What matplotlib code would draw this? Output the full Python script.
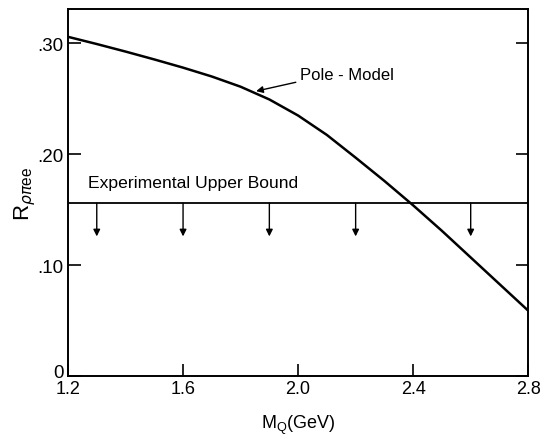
import matplotlib
matplotlib.use('Agg')
import matplotlib.pyplot as plt
import matplotlib.transforms as mtransforms

# ---- Data ----
mass_gev = [1.2, 1.3, 1.4, 1.5, 1.6, 1.7, 1.8, 1.9, 2.0, 2.1, 2.2, 2.3, 2.4,
            2.5, 2.6, 2.7, 2.8]
pole_model = [0.306, 0.2995, 0.2927, 0.2856, 0.2782, 0.2702, 0.2610, 0.2495,
              0.2350, 0.2175, 0.1970, 0.1760, 0.1540, 0.1310, 0.1070, 0.0830,
              0.0590]
upper_bound = 0.156
arrow_x = [1.3, 1.6, 1.9, 2.2, 2.6]
arrow_end = 0.126

x_ticks = [1.2, 1.6, 2.0, 2.4, 2.8]
x_ticklabels = ['1.2', '1.6', '2.0', '2.4', '2.8']
y_ticks = [0.0, 0.10, 0.20, 0.30]
y_ticklabels = ['0', '.10', '.20', '.30']

plt.rcParams['font.family'] = ['Liberation Sans', 'DejaVu Sans']

fig = plt.figure(figsize=(5.44, 4.39), dpi=100)
ax = fig.add_axes([0.125, 0.141, 0.846, 0.836])

ax.plot(mass_gev, pole_model, color='black', lw=1.8,
        solid_joinstyle='round', solid_capstyle='round')
ax.axhline(upper_bound, color='black', lw=1.3)
for xa in arrow_x:
    ax.annotate('', xy=(xa, arrow_end), xytext=(xa, upper_bound),
                arrowprops=dict(arrowstyle='-|>', color='black', lw=1.0,
                                mutation_scale=10, shrinkA=0, shrinkB=0))

ax.text(1.27, 0.175, 'Experimental Upper Bound', fontsize=12.6,
        va='center', ha='left')
ax.text(2.007, 0.272, 'Pole - Model', fontsize=12, va='center', ha='left')
ax.annotate('', xy=(1.854, 0.257), xytext=(1.992, 0.265),
            arrowprops=dict(arrowstyle='-|>', color='black', lw=1.0,
                            mutation_scale=10, shrinkA=0, shrinkB=0))

ax.set_xlim(1.2, 2.8)
ax.set_ylim(0, 0.331)
ax.set_xticks(x_ticks)
ax.set_xticklabels(x_ticklabels, fontsize=13)
ax.set_yticks(y_ticks)
ax.set_yticklabels(y_ticklabels, fontsize=13.5)
ax.tick_params(direction='in', length=9, width=1.2, right=True, top=False)
ax.tick_params(axis='x', pad=3)
ax.tick_params(axis='y', pad=3)
for s in ax.spines.values():
    s.set_linewidth(1.4)

# the "0" sits a little above the corner, clear of "1.2"
zero_lbl = ax.get_yticklabels()[0]
zero_lbl.set_transform(zero_lbl.get_transform() +
                       mtransforms.ScaledTranslation(0, 4 / 72,
                                                     fig.dpi_scale_trans))

ax.set_xlabel(r'M$_\mathregular{Q}$(GeV)', fontsize=13, labelpad=11)
ax.set_ylabel(r'R$_{\rho\pi \mathregular{ee}}$', fontsize=16, labelpad=0)

fig.savefig('out.png', dpi=100)
